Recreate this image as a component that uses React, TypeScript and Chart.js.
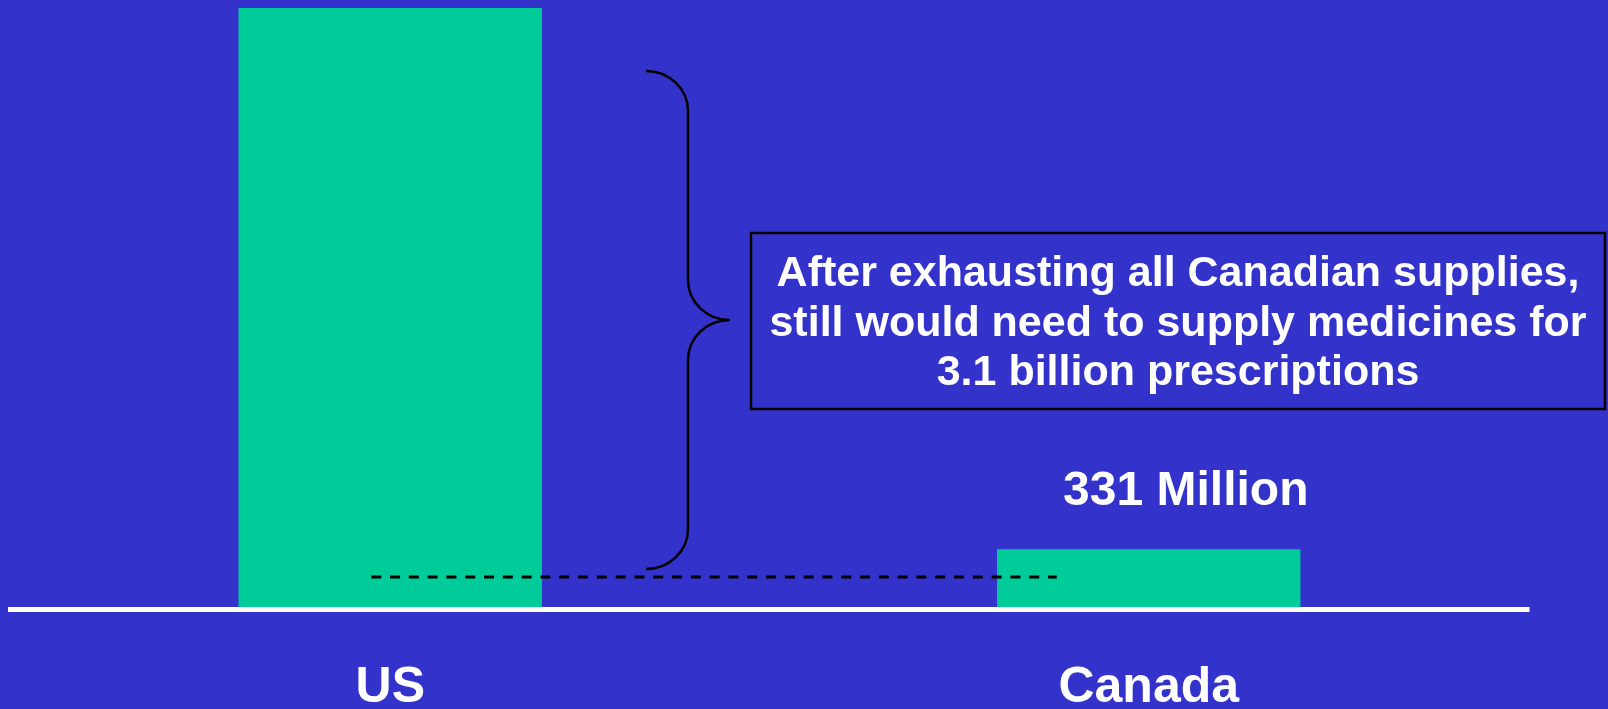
import { useEffect, useRef } from "react";
import { Chart, registerables } from "chart.js";

Chart.register(...registerables);

// Prescriptions filled per year, in millions
const categories = ["US", "Canada"];
const prescriptionsMillions = [3431, 331];
const valueUnit = "Million";

const calloutLines = [
  "After exhausting all Canadian supplies,",
  "still would need to supply medicines for",
  "3.1 billion prescriptions",
];

const BG = "#3333CC";
const BAR = "#00CC99";
const FONT = '"Liberation Sans", Arial, Helvetica, sans-serif';
const W = 1608;
const H = 709;

// Callout frame and curly brace geometry (page pixels)
const calloutBox = { left: 751, top: 233, right: 1605, bottom: 409 };
const calloutText = { size: 43, firstBaseline: 286, lineGap: 49.5 };
const brace = { tipX: 646, stemX: 688, pointX: 730, top: 71, bottom: 569, rx: 42, ry: 40 };

const decorations = {
  id: "decorations",
  beforeDraw(chart: any) {
    const { ctx, width, height } = chart;
    ctx.save();
    ctx.fillStyle = BG;
    ctx.fillRect(0, 0, width, height);
    ctx.restore();
  },
  afterDatasetsDraw(chart: any) {
    const { ctx, chartArea, scales } = chart;
    const x = scales.x;
    const y = scales.y;
    const base = y.getPixelForValue(0);
    const xUS = x.getPixelForValue(0);
    const xCA = x.getPixelForValue(1);

    ctx.save();

    // white baseline under the bars
    ctx.fillStyle = "#FFFFFF";
    ctx.fillRect(chartArea.left - 3, base, chartArea.right - chartArea.left + 4.5, 5);

    // dashed reference line
    ctx.strokeStyle = "#000000";
    ctx.lineWidth = 3;
    ctx.setLineDash([10, 8.8]);
    ctx.beginPath();
    ctx.moveTo(xUS - 19, base - 30);
    ctx.lineTo(xCA - 92, base - 30);
    ctx.stroke();
    ctx.setLineDash([]);

    // value label above the Canada bar
    ctx.fillStyle = "#FFFFFF";
    ctx.textAlign = "center";
    ctx.textBaseline = "alphabetic";
    ctx.font = `bold 48px ${FONT}`;
    ctx.fillText(`${prescriptionsMillions[1]} ${valueUnit}`, xCA + 37, y.getPixelForValue(prescriptionsMillions[1]) - 44);

    // curly brace
    const b = brace;
    const mid = (b.top + b.bottom) / 2;
    ctx.strokeStyle = "#000000";
    ctx.lineWidth = 2.5;
    ctx.beginPath();
    ctx.ellipse(b.tipX, b.top + b.ry, b.rx, b.ry, 0, -Math.PI / 2, 0, false);
    ctx.lineTo(b.stemX, mid - b.ry);
    ctx.ellipse(b.pointX, mid - b.ry, b.rx, b.ry, 0, Math.PI, Math.PI / 2, true);
    ctx.ellipse(b.pointX, mid + b.ry, b.rx, b.ry, 0, -Math.PI / 2, -Math.PI, true);
    ctx.lineTo(b.stemX, b.bottom - b.ry);
    ctx.ellipse(b.tipX, b.bottom - b.ry, b.rx, b.ry, 0, 0, Math.PI / 2, false);
    ctx.stroke();

    // callout frame
    const box = calloutBox;
    ctx.lineWidth = 2.5;
    ctx.strokeRect(box.left, box.top, box.right - box.left, box.bottom - box.top);

    // callout text
    ctx.fillStyle = "#FFFFFF";
    ctx.font = `bold ${calloutText.size}px ${FONT}`;
    const cx = (box.left + box.right) / 2;
    calloutLines.forEach((line, i) => {
      ctx.fillText(line, cx, calloutText.firstBaseline + i * calloutText.lineGap);
    });

    ctx.restore();
  },
};

export default function App() {
  const ref = useRef<HTMLCanvasElement>(null);

  useEffect(() => {
    const canvas = ref.current;
    if (!canvas) return;
    const chart = new Chart(canvas, {
      type: "bar",
      data: {
        labels: categories,
        datasets: [
          {
            data: prescriptionsMillions,
            backgroundColor: BAR,
            borderWidth: 0,
            barPercentage: 0.8,
            categoryPercentage: 0.5,
          },
        ],
      },
      options: {
        responsive: false,
        animation: false,
        devicePixelRatio: 1,
        layout: { padding: { left: 11, right: 80, top: 8, bottom: 0 } },
        plugins: {
          legend: { display: false },
          tooltip: { enabled: false },
        },
        scales: {
          x: {
            grid: { display: false, drawTicks: false },
            border: { display: false },
            ticks: {
              color: "#FFFFFF",
              font: { family: FONT, size: 50, weight: "bold", lineHeight: 1.2 },
              padding: 51,
            },
            afterFit: (scale: any) => {
              scale.height = 102;
            },
          },
          y: {
            display: false,
            min: 0,
            max: Math.max(...prescriptionsMillions),
          },
        },
      },
      plugins: [decorations],
    });
    return () => chart.destroy();
  }, []);

  return (
    <div style={{ position: "fixed", left: 0, top: 0, width: W, height: H, background: BG }}>
      <canvas ref={ref} width={W} height={H} style={{ display: "block" }} />
    </div>
  );
}
